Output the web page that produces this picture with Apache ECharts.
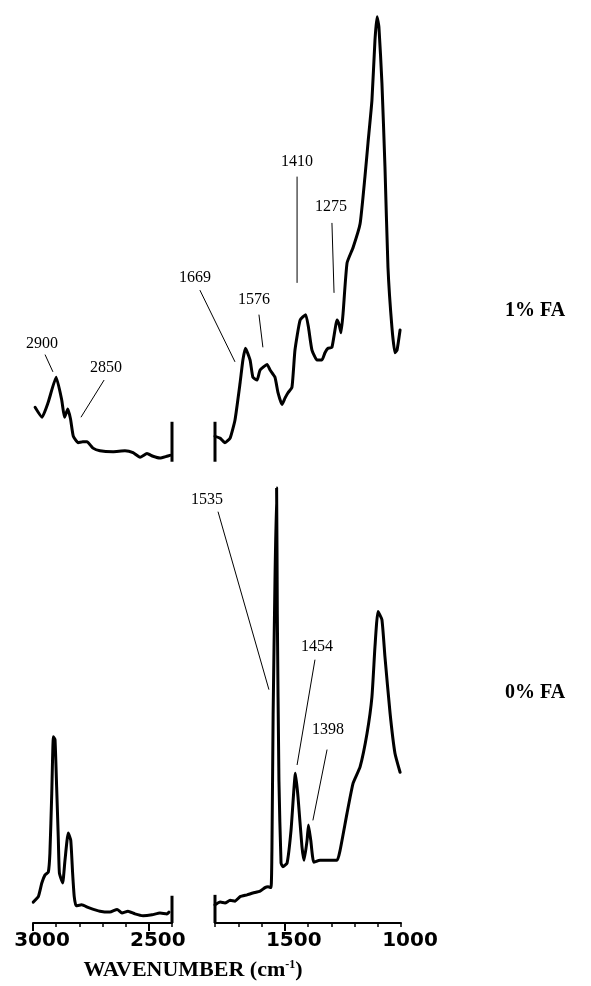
<!DOCTYPE html>
<html>
<head>
<meta charset="utf-8">
<script src="https://cdn.jsdelivr.net/npm/echarts@6/dist/echarts.min.js"></script>
<style>
  html, body { margin: 0; padding: 0; background: #fff; }
  #chart { width: 591px; height: 986px; }
</style>
</head>
<body>
<div id="chart"></div>
<script>
// IR spectra (absorbance, arbitrary units) of films with 1% and 0% FA.
// Each trace is given relative to its own baseline; wavenumbers in cm-1.

// 1% FA, C-H stretching region
const fa1Left = [[2991,6.8],[2961,5.7],[2935,7.3],[2900,10.1],[2876,7.6],[2864,5.7],[2850,6.6],[2838,5.5],
  [2826,3.6],[2805,2.9],[2785,3.0],[2767,3.0],[2741,2.3],[2711,2.0],[2655,1.9],[2603,2.0],[2568,1.8],
  [2538,1.3],[2508,1.7],[2482,1.4],[2452,1.2],[2422,1.4],[2409,1.5]];
// 1% FA, fingerprint region
const fa1Right = [[1800,3.6],[1778,3.4],[1757,2.9],[1735,3.4],[1714,5.4],[1692,9.5],[1680,12.0],[1669,13.3],
  [1649,12.0],[1637,10.1],[1619,9.8],[1606,10.9],[1576,11.5],[1563,10.9],[1542,10.1],[1529,8.4],[1512,7.1],
  [1499,7.8],[1486,8.4],[1469,9.0],[1456,13.1],[1434,16.4],[1410,17.0],[1398,15.6],[1383,13.1],[1361,12.0],
  [1340,12.0],[1327,12.8],[1314,13.3],[1297,13.4],[1275,16.4],[1266,15.9],[1258,15.0],[1249,17.2],[1232,22.7],
  [1206,24.4],[1176,27.0],[1155,32.2],[1142,35.9],[1125,40.6],[1112,47.2],[1103,49.8],[1095,48.7],[1082,42.5],
  [1069,33.3],[1056,22.2],[1039,15.6],[1026,12.8],[1017,13.1],[1004,15.3]];
// 0% FA, C-H stretching region
const fa0Left = [[2999,2.3],[2977,2.9],[2962,4.4],[2948,5.3],[2934,5.6],[2927,7.7],[2919,14.3],[2912,20.5],
  [2905,20.2],[2898,15.0],[2891,9.5],[2886,5.5],[2872,4.4],[2862,6.9],[2848,9.9],[2837,9.1],[2829,5.5],
  [2822,2.9],[2814,1.9],[2790,2.0],[2760,1.7],[2711,1.3],[2668,1.2],[2637,1.5],[2616,1.1],[2590,1.3],
  [2560,1.0],[2525,0.8],[2486,0.9],[2452,1.1],[2422,1.0],[2413,1.2]];
// 0% FA, fingerprint region
const fa0Right = [[1800,2.0],[1778,2.3],[1757,2.2],[1735,2.5],[1714,2.4],[1692,2.9],[1662,3.1],[1637,3.3],
  [1606,3.5],[1585,3.9],[1572,4.0],[1559,3.9],[1555,8.4],[1550,23.0],[1542,37.8],[1535,47.9],[1532,34.0],
  [1525,15.7],[1516,6.6],[1508,6.2],[1490,6.6],[1473,10.2],[1454,16.5],[1443,13.9],[1426,8.4],[1417,6.9],
  [1404,9.1],[1398,10.8],[1388,9.1],[1375,6.7],[1348,6.9],[1314,6.9],[1275,6.9],[1262,8.0],[1232,12.1],
  [1206,15.4],[1176,17.2],[1146,20.9],[1125,24.9],[1112,30.4],[1099,34.3],[1082,33.4],[1069,29.3],
  [1047,23.1],[1026,18.7],[1004,16.6]];

// Axis break marks: [wavenumber, upper, lower]
const fa1Breaks = [[2400, 5.2, 0.8], [1800, 5.2, 0.8]];
const fa0Breaks = [[2400, 3.0, 0.0], [1800, 3.1, 0.0]];

// Peak assignments: [peak, text wn, text y, leader start wn, y, leader end wn, y]
const fa1Notes = [
  [2900, 2961, 13.8, 2948, 12.6, 2914, 10.7],
  [2850, 2685, 11.2, 2693, 9.8, 2793, 5.7],
  [1669, 1886, 21.1, 1865, 19.7, 1714, 11.8],
  [1576, 1632, 18.6, 1611, 17.0, 1594, 13.4],
  [1410, 1447, 33.8, 1447, 32.2, 1447, 20.5],
  [1275, 1301, 28.9, 1297, 27.1, 1288, 19.4]
];
const fa0Notes = [
  [1535, 1834, 46.6, 1787, 45.3, 1568, 25.7],
  [1454, 1361, 30.4, 1370, 29.0, 1447, 17.4],
  [1398, 1314, 21.3, 1318, 19.1, 1379, 11.3]
];

// Axis ranges and tick labels of the broken wavenumber axis
const leftRange = [2400, 3000];
const rightRange = [1000, 1800];
const leftTickLabels = [3000, 2500];
const rightTickLabels = [1500, 1000];
const traceNames = ['1% FA', '0% FA'];

const chart = echarts.init(document.getElementById('chart'), null, { renderer: 'canvas' });

// vertical stacking of the two spectra
const OFFSET_1 = 50, OFFSET_0 = 0;
const INK = '#000';

function trace(data, off, g) {
  return {
    type: 'line', xAxisIndex: g * 2, yAxisIndex: g,
    data: data.map(p => [p[0], p[1] + off]),
    showSymbol: false, symbol: 'none', smooth: 0.15, clip: false, silent: true,
    lineStyle: { color: INK, width: 3, join: 'round', cap: 'round' }
  };
}

function breakMark(b, off, g) {
  return {
    type: 'line', xAxisIndex: g * 2, yAxisIndex: g,
    data: [[b[0], b[1] + off], [b[0], b[2] + off]],
    showSymbol: false, symbol: 'none', clip: false, silent: true,
    lineStyle: { color: INK, width: 3 }
  };
}

function notes(list, off, g) {
  return {
    type: 'custom', xAxisIndex: g * 2, yAxisIndex: g, clip: false, silent: true,
    data: list.map(n => [n[1], n[2] + off]),
    renderItem: function (params, api) {
      const n = list[params.dataIndex];
      const t = api.coord([n[1], n[2] + off]);
      const a = api.coord([n[3], n[4] + off]);
      const b = api.coord([n[5], n[6] + off]);
      return {
        type: 'group',
        children: [
          { type: 'line', shape: { x1: a[0], y1: a[1], x2: b[0], y2: b[1] },
            style: { stroke: INK, lineWidth: 1 } },
          { type: 'text', x: t[0], y: t[1],
            style: { text: String(n[0]), align: 'center', verticalAlign: 'middle',
                     fontFamily: 'Liberation Serif', fontSize: 16, fill: INK } }
        ]
      };
    }
  };
}

const labelStyle = {
  fontFamily: 'DejaVu Sans', fontWeight: 'bold', fontSize: 20, color: INK,
  margin: 8, padding: [0, 0, 0, 18],
  formatter: v => String(v)
};

function axisPair(g, range, labels) {
  return [
    {
      type: 'value', gridIndex: g, position: 'bottom', min: range[0], max: range[1],
      inverse: true, interval: 100,
      axisLine: { show: true, onZero: false, lineStyle: { color: INK, width: 2 } },
      axisTick: { show: true, length: 4, lineStyle: { color: INK, width: 1.5 } },
      axisLabel: Object.assign({ customValues: labels }, labelStyle),
      splitLine: { show: false }
    },
    {
      type: 'value', gridIndex: g, position: 'bottom', offset: 0, min: range[0], max: range[1],
      inverse: true,
      axisLine: { show: false, onZero: false },
      axisTick: { show: true, length: 8, customValues: labels.filter(v => v !== 1000),
                  lineStyle: { color: INK, width: 2 } },
      axisLabel: { show: false },
      splitLine: { show: false }
    }
  ];
}

const option = {
  animation: false,
  backgroundColor: '#fff',
  title: [
    {
      text: '{b|WAVENUMBER (cm}{s|-1}{b|)}', left: 188, top: 954, textAlign: 'center',
      textStyle: {
        rich: {
          b: { fontFamily: 'Liberation Serif', fontWeight: 'bold', fontSize: 22, color: INK },
          s: { fontFamily: 'Liberation Serif', fontWeight: 'bold', fontSize: 12, color: INK, padding: [0, 0, 10, 0] }
        }
      }
    },
    { text: traceNames[0], left: 500, top: 296,
      textStyle: { fontFamily: 'Liberation Serif', fontWeight: 'bold', fontSize: 20, color: INK } },
    { text: traceNames[1], left: 500, top: 678,
      textStyle: { fontFamily: 'Liberation Serif', fontWeight: 'bold', fontSize: 20, color: INK } }
  ],
  grid: [
    { left: 33, width: 139, top: 15, height: 908 },
    { left: 215, width: 186, top: 15, height: 908 }
  ],
  xAxis: axisPair(0, leftRange, leftTickLabels).concat(axisPair(1, rightRange, rightTickLabels)),
  yAxis: [
    { type: 'value', gridIndex: 0, min: 0, max: 100, show: false },
    { type: 'value', gridIndex: 1, min: 0, max: 100, show: false }
  ],
  series: [
    trace(fa1Left, OFFSET_1, 0),
    trace(fa1Right, OFFSET_1, 1),
    trace(fa0Left, OFFSET_0, 0),
    trace(fa0Right, OFFSET_0, 1),
    breakMark(fa1Breaks[0], OFFSET_1, 0),
    breakMark(fa1Breaks[1], OFFSET_1, 1),
    breakMark(fa0Breaks[0], OFFSET_0, 0),
    breakMark(fa0Breaks[1], OFFSET_0, 1),
    notes(fa1Notes.filter(n => n[0] > 2000), OFFSET_1, 0),
    notes(fa1Notes.filter(n => n[0] < 2000), OFFSET_1, 1),
    notes(fa0Notes, OFFSET_0, 1)
  ]
};

chart.setOption(option);
</script>
</body>
</html>
